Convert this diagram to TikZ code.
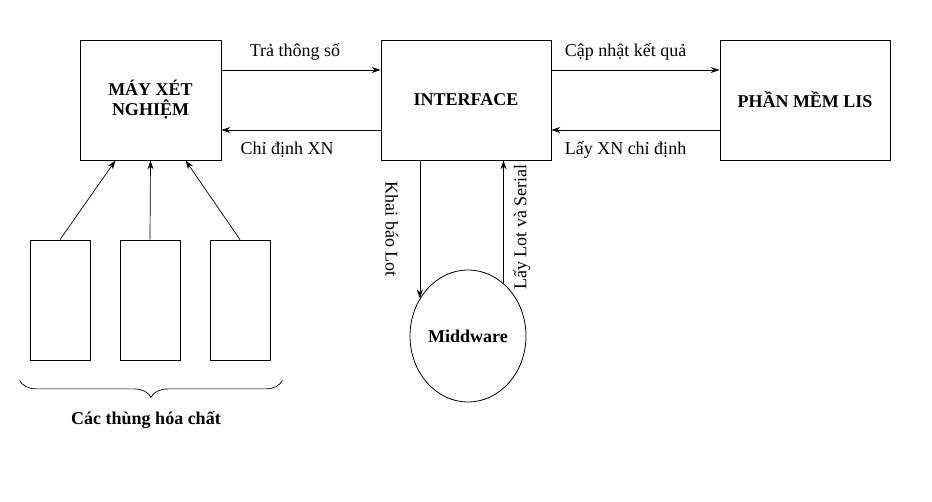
\documentclass[tikz,border=0pt]{standalone}
\usepackage{fontspec}
\setmainfont{Liberation Serif}
\usetikzlibrary{positioning, shapes.geometric, arrows.meta, decorations.pathreplacing}
\newcommand{\diagramFont}{\fontsize{18}{20}\selectfont}
\tikzstyle{pixelGrid} = [x = 1pt, y = -1pt]
\tikzstyle{boxStyle} = [draw, rectangle, line width = .8pt, inner sep = 0pt, minimum height = 120pt, align = center, font = \diagramFont\bfseries]
\tikzstyle{binStyle} = [draw, rectangle, line width = .8pt, minimum width = 60pt, minimum height = 120pt]
\tikzstyle{middStyle} = [draw, ellipse, line width = .8pt, inner sep = 0pt, minimum width = 116pt, minimum height = 132pt, font = \diagramFont\bfseries]
\tikzstyle{arrowStyle} = [-{Stealth[length = 9pt, width = 6pt]}, line width = .7pt]
\tikzstyle{edgeText} = [font = \diagramFont]
\tikzstyle{boldText} = [font = \diagramFont\bfseries]
\tikzstyle{braceStyle} = [line width = .7pt, decorate, decoration = {brace, mirror, amplitude = 17pt}]
\newcommand{\binBox}[2]{\node [binStyle] (bin#1) at (#2, 300) {};}

\begin{document}
\begin{tikzpicture}[pixelGrid]
  \useasboundingbox (0,0) rectangle (932,502);
  \node [boxStyle, minimum width = 141pt] (may) at (150.5,100) {MÁY XÉT\\NGHIỆM};
  \node [boxStyle, minimum width = 170pt] (iface) at (466,100) {INTERFACE};
  \node [boxStyle, minimum width = 170pt] (lis) at (805,100) {PHẦN MỀM LIS};
  \node [middStyle] (mw) at (468,336) {Middware};

  \draw [arrowStyle] ([yshift = 30pt]may.east) -- ([yshift = 30pt]iface.west) node [edgeText, midway, above = 6pt, xshift = -6pt] {Trả thông số};
  \draw [arrowStyle] ([yshift = -30pt]iface.west) -- ([yshift = -30pt]may.east) node [edgeText, midway, below = 8pt, xshift = -14pt] {Chỉ định XN};
  \draw [arrowStyle] ([yshift = 30pt]iface.east) -- ([yshift = 30pt]lis.west) node [edgeText, midway, above = 6pt, xshift = -10pt] {Cập nhật kết quả};
  \draw [arrowStyle] ([yshift = -30pt]lis.west) -- ([yshift = -30pt]iface.east) node [edgeText, midway, below = 8pt, xshift = -10pt] {Lấy XN chỉ định};

  \draw [arrowStyle] (mw.142 |- iface.south) -- (mw.142) node [edgeText, midway, rotate = -90, anchor = north, yshift = -18pt] {Khai báo Lot};
  \draw [arrowStyle] (mw.56) -- (mw.56 |- iface.south) node [edgeText, midway, rotate = 90, anchor = north, xshift = -5pt, yshift = -6pt] {Lấy Lot và Serial};

  \binBox{1}{60}
  \binBox{2}{150}
  \binBox{3}{240}
  \foreach \bin/\shift in {1/-35, 2/0, 3/35} {
    \draw [arrowStyle] (bin\bin.north) -- ([xshift = \shift pt]may.south);
  }
  \draw [braceStyle] ([shift = {(-10pt,-20pt)}]bin1.south west) -- ([shift = {(12pt,-20pt)}]bin3.south east);
  \node [boldText] (binsLabel) at (146,420) {Các thùng hóa chất};
\end{tikzpicture}
\end{document}
